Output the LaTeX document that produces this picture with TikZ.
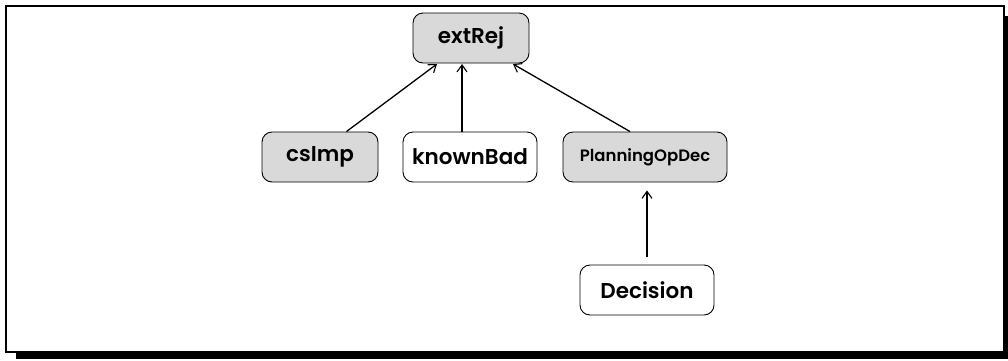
\documentclass[tikz,border=0pt]{standalone}
\usepackage{fontspec}
\setmainfont{Poppins}[UprightFont=* SemiBold, BoldFont=* Bold]
\usetikzlibrary{arrows.meta}
\begin{document}
\begin{tikzpicture}[x=1pt,y=-1pt,
  box/.style={draw=black, line width=0.9pt, rounded corners=10pt, minimum height=50pt, inner sep=0pt, font=\fontsize{21.5}{21.5}\selectfont},
  grey/.style={fill=gray!30},
  link/.style={line width=1.3pt, -{Straight Barb[length=7pt,width=10pt,line width=1.1pt]}}]
  \useasboundingbox (0,0) rectangle (1008,360);
  % drop shadow and frame
  \fill[black] (16,352) rectangle (1008,359);
  \fill[black] (1004,16) rectangle (1008,359);
  \draw[line width=1.5pt, fill=white] (6,6) rectangle (1004,352);
  % nodes
  \node[box, grey, minimum width=116pt] (extRej) at (471,38) {extRej};
  \node[box, grey, minimum width=116pt] (csImp) at (320,157) {csImp};
  \node[box, minimum width=134pt] (knownBad) at (470,157) {knownBad};
  \node[box, grey, minimum width=164pt, font=\fontsize{16.5}{16.5}\selectfont] (plan) at (645,157) {PlanningOpDec};
  \node[box, minimum width=134pt] (decision) at (647,290) {Decision};
  % connectors
  \coordinate (a1) at (437,64);
  \coordinate (a2) at (462,64);
  \coordinate (a3) at (513,64);
  \draw[link] (csImp.north east) ++(-32,0) -- (a1);
  \draw[link] (knownBad.north) ++(-8,0) -- (a2);
  \draw[link] (plan.north) ++(-15,0) -- (a3);
  \draw[link, shorten >=8pt, shorten <=8pt] (decision.north) -- (plan.south -| decision.north);
\end{tikzpicture}
\end{document}
